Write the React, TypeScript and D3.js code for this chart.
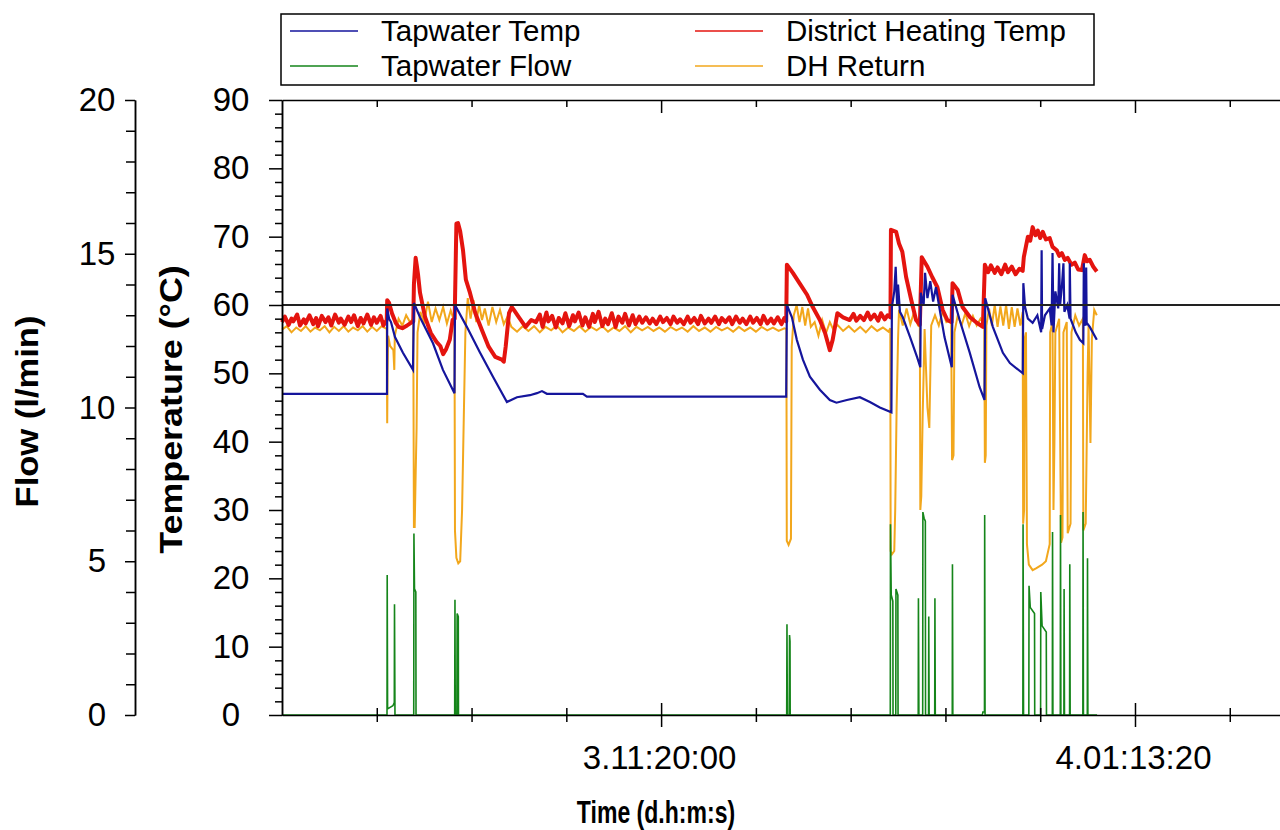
import React, { useEffect, useRef } from "react";
import * as d3 from "d3";

// time values are in thousands of seconds (ks) since t = 0
const tapwaterTemp: [number, number][] = [
  [260.0, 47.0], [271.08, 47.0], [271.1, 59.5], [271.3, 58.0], [271.5, 57.5], [271.92, 55.3],
  [272.76, 53.0], [273.82, 50.5], [273.92, 60.3], [274.56, 58.2], [275.93, 54.4], [276.98, 50.5],
  [278.2, 47.1], [278.25, 60.0], [279.5, 56.8], [280.9, 53.0], [282.26, 49.5], [283.73, 45.8],
  [284.79, 46.5], [286.16, 46.8], [286.9, 47.1], [287.43, 47.4], [287.95, 47.0], [291.75, 47.0],
  [292.17, 46.6], [313.2, 46.6], [313.27, 60.0], [313.8, 58.2], [314.32, 54.9], [314.96, 52.0],
  [315.7, 49.5], [316.75, 47.6], [317.8, 46.1], [318.5, 45.7], [319.6, 46.1], [320.97, 46.5],
  [322.03, 45.8], [323.08, 45.0], [324.3, 44.3], [324.35, 59.7], [324.6, 62.0], [324.75, 65.6],
  [324.9, 60.0], [325.0, 63.0], [325.2, 59.0], [325.5, 58.2], [326.27, 55.3], [327.0, 52.4],
  [327.35, 50.9], [327.4, 61.8], [327.7, 60.0], [327.85, 64.7], [328.1, 61.0], [328.4, 63.5],
  [328.7, 60.5], [329.0, 62.6], [329.4, 59.3], [329.9, 55.3], [330.67, 50.9], [330.75, 61.5],
  [331.5, 57.8], [332.57, 53.0], [333.6, 48.0], [334.12, 46.1], [334.2, 61.0], [335.0, 56.8],
  [336.06, 53.0], [336.8, 51.5], [338.16, 50.0], [338.22, 63.2], [338.4, 59.7], [338.7, 58.0],
  [339.2, 57.4], [339.7, 58.5], [340.1, 56.0], [340.15, 68.0], [340.2, 56.5], [340.5, 58.5],
  [341.0, 59.5], [341.2, 57.0], [341.3, 67.6], [341.4, 56.0], [341.6, 62.0], [341.9, 59.5],
  [342.0, 66.1], [342.1, 60.0], [342.3, 63.0], [342.45, 66.1], [342.55, 59.0], [342.85, 60.0],
  [343.1, 58.0], [343.12, 66.1], [343.2, 58.0], [343.75, 56.0], [344.18, 54.9], [344.55, 54.4],
  [344.6, 66.1], [344.65, 57.4], [344.8, 57.0], [344.85, 65.5], [344.9, 57.4], [345.23, 56.8],
  [345.97, 54.9],
];

const districtHeatingTemp: [number, number][] = [
  [260.0, 57.5], [260.3, 58.3], [260.7, 57.1], [261.0, 58.0], [261.2, 57.6], [261.6, 58.6],
  [261.9, 57.0], [262.3, 57.9], [262.5, 57.3], [262.9, 58.5], [263.3, 57.2], [263.6, 58.1],
  [263.8, 56.9], [264.2, 58.4], [264.6, 57.5], [264.9, 58.2], [265.2, 57.0], [265.6, 58.6],
  [266.0, 57.4], [266.2, 58.0], [266.6, 57.1], [267.0, 58.3], [267.3, 57.5], [267.6, 58.5],
  [268.0, 56.9], [268.3, 58.1], [268.6, 57.3], [269.0, 58.6], [269.4, 57.1], [269.7, 58.2],
  [270.0, 57.4], [270.4, 58.4], [270.7, 57.0], [271.05, 57.8],
  [271.1, 60.7], [271.3, 60.3], [271.6, 58.8], [272.0, 57.4], [272.3, 56.8], [272.7, 56.6],
  [273.2, 57.0], [273.6, 57.4], [273.85, 57.6], [273.92, 63.0], [274.1, 66.9], [274.2, 66.0],
  [274.35, 64.5], [274.56, 61.8], [275.1, 58.2], [275.7, 55.9], [276.3, 54.6], [276.7, 54.0],
  [277.0, 52.8], [277.3, 53.5], [277.7, 54.9], [278.0, 57.8], [278.22, 58.0], [278.4, 71.9],
  [278.57, 72.0], [278.8, 70.8], [279.1, 68.0], [279.4, 63.7], [279.83, 61.8], [280.4, 58.8],
  [281.1, 56.3], [281.8, 53.9], [282.5, 52.4], [283.2, 52.0], [283.4, 51.7], [283.6, 53.9],
  [283.95, 58.8], [284.25, 59.7], [284.5, 59.2], [285.0, 58.2], [285.7, 56.8], [286.3, 57.8],
  [286.8, 57.5], [287.2, 58.6], [287.5, 56.8], [287.9, 58.9], [288.1, 57.6], [288.5, 58.4],
  [288.9, 56.7], [289.2, 58.1], [289.6, 57.3], [289.9, 58.8], [290.3, 56.9], [290.7, 58.5],
  [290.9, 57.6], [291.3, 58.9], [291.7, 57.0], [292.0, 58.2], [292.4, 56.8], [292.8, 58.7],
  [293.0, 57.5], [293.4, 59.0], [293.8, 56.9], [294.1, 58.0], [294.4, 57.2], [294.8, 58.8],
  [295.2, 56.8], [295.5, 58.3], [295.9, 57.4], [296.2, 58.7], [296.6, 57.0], [297.0, 58.5],
  [297.3, 57.2], [297.7, 58.3], [298.0, 57.4], [298.4, 58.2], [298.8, 57.3], [299.1, 58.0],
  [299.5, 57.2], [299.9, 58.3], [300.2, 57.5], [300.6, 58.1], [301.0, 57.2], [301.3, 58.3],
  [301.7, 57.4], [302.0, 57.9], [302.4, 57.2], [302.8, 58.3], [303.1, 57.4], [303.5, 58.1],
  [303.9, 57.2], [304.2, 58.4], [304.6, 57.3], [305.0, 58.0], [305.3, 57.4], [305.7, 58.3],
  [306.1, 57.2], [306.4, 58.1], [306.8, 57.5], [307.2, 58.2], [307.5, 57.2], [307.9, 58.3],
  [308.3, 57.4], [308.6, 58.0], [309.0, 57.2], [309.4, 58.3], [309.7, 57.4], [310.1, 58.1],
  [310.5, 57.2], [310.8, 58.4], [311.2, 57.3], [311.6, 58.0], [311.9, 57.3], [312.3, 58.2],
  [312.7, 57.2], [313.0, 58.1], [313.2, 57.6], [313.27, 65.9], [313.9, 64.7], [314.6, 63.2],
  [315.4, 61.5], [316.0, 59.7], [316.75, 57.8], [317.3, 55.9], [317.8, 53.4], [318.1, 54.9],
  [318.6, 58.8], [319.2, 58.2], [319.9, 57.8], [320.3, 58.7], [320.6, 57.7], [321.0, 58.4],
  [321.4, 57.8], [321.8, 58.9], [322.1, 57.9], [322.5, 58.6], [322.9, 57.7], [323.2, 58.8],
  [323.6, 57.9], [323.9, 58.5], [324.2, 58.2],
  [324.25, 71.0], [324.8, 70.7], [325.1, 69.0], [325.45, 67.8], [325.85, 64.1], [326.4, 60.7],
  [326.9, 57.8], [327.3, 57.1], [327.5, 67.0], [328.1, 65.6], [328.6, 64.1], [329.15, 62.6],
  [329.7, 59.3], [330.2, 57.8], [330.65, 57.5], [330.75, 63.2], [331.3, 62.2], [331.8, 59.7],
  [332.6, 58.2], [333.3, 57.4], [333.95, 56.8], [334.16, 65.9], [334.5, 64.8], [334.8, 65.8],
  [335.2, 64.7], [335.5, 65.5], [335.9, 64.5], [336.3, 65.9], [336.6, 64.8], [337.0, 65.6],
  [337.4, 64.5], [337.8, 65.3], [338.15, 65.0], [338.27, 67.0], [338.5, 68.6], [338.7, 70.0],
  [338.95, 69.4], [339.2, 71.4], [339.5, 70.2], [339.75, 70.9], [340.0, 69.8], [340.27, 70.7],
  [340.6, 69.6], [341.0, 69.8], [341.3, 68.5], [341.75, 68.0], [342.0, 67.2], [342.28, 67.6],
  [342.6, 66.6], [342.9, 66.9], [343.3, 65.9], [343.65, 66.2], [344.0, 65.2], [344.4, 65.1],
  [344.7, 67.3], [344.95, 66.4], [345.23, 66.6], [345.6, 65.6], [345.97, 64.9],
];

const dhReturn: [number, number][] = [
  [260.0, 56.4], [260.5, 56.9], [261.0, 56.0], [261.5, 56.7], [262.0, 56.2], [262.5, 56.9],
  [263.0, 56.1], [263.5, 56.7], [264.0, 56.3], [264.5, 56.9], [265.0, 56.0], [265.5, 56.8],
  [266.0, 56.2], [266.5, 56.9], [267.0, 56.1], [267.5, 56.7], [268.0, 56.3], [268.5, 56.9],
  [269.0, 56.1], [269.5, 56.8], [270.0, 56.2], [270.5, 56.9], [271.05, 56.5],
  [271.1, 42.7], [271.14, 50.0], [271.2, 55.5], [271.4, 54.0], [271.75, 53.4], [271.85, 50.5],
  [271.9, 55.5], [272.3, 58.0], [272.7, 57.0], [273.1, 58.5], [273.5, 57.5], [273.85, 58.0],
  [273.92, 27.5], [274.0, 27.5], [274.1, 35.0], [274.2, 42.0], [274.3, 56.0], [274.6, 59.0],
  [275.0, 57.5], [275.4, 60.5], [275.8, 57.5], [276.2, 59.5], [276.6, 57.8], [277.0, 59.7],
  [277.4, 57.3], [277.8, 59.2], [278.2, 57.5], [278.25, 27.0], [278.4, 23.0], [278.6, 22.2],
  [278.8, 22.5], [279.0, 30.0], [279.2, 45.0], [279.35, 56.0], [279.6, 61.0], [279.9, 58.0],
  [280.2, 60.7], [280.5, 57.5], [280.8, 60.0], [281.1, 57.8], [281.4, 59.5], [281.8, 57.0],
  [282.2, 59.7], [282.6, 57.5], [283.0, 59.3], [283.4, 57.2], [283.8, 58.3], [284.2, 56.8],
  [284.8, 56.1], [285.4, 56.9], [286.0, 56.2], [286.6, 56.9], [287.2, 56.0], [287.8, 56.8],
  [288.4, 56.3], [289.0, 57.0], [289.6, 56.0], [290.2, 56.7], [290.8, 56.2], [291.4, 56.9],
  [292.0, 56.1], [292.6, 56.8], [293.2, 56.3], [293.8, 56.9], [294.4, 56.1], [295.0, 56.7],
  [295.6, 56.2], [296.2, 56.9], [296.8, 56.0], [297.4, 56.8], [298.0, 56.3], [298.6, 56.8],
  [299.2, 56.2], [299.8, 56.7], [300.4, 56.1], [301.0, 56.8], [301.6, 56.3], [302.2, 56.7],
  [302.8, 56.1], [303.4, 56.9], [304.0, 56.2], [304.6, 56.7], [305.2, 56.1], [305.8, 56.8],
  [306.4, 56.3], [307.0, 56.7], [307.6, 56.1], [308.2, 56.8], [308.8, 56.2], [309.4, 56.7],
  [310.0, 56.1], [310.6, 56.8], [311.2, 56.3], [311.8, 56.7], [312.4, 56.2], [313.0, 56.6],
  [313.22, 56.5], [313.26, 25.5], [313.45, 24.9], [313.7, 25.8], [313.78, 53.9], [314.0, 58.5],
  [314.3, 60.0], [314.6, 57.5], [314.9, 59.7], [315.2, 57.0], [315.5, 59.5], [315.8, 56.8],
  [316.2, 57.5], [316.6, 55.5], [317.0, 57.8], [317.4, 55.9], [317.8, 57.5], [318.2, 56.3],
  [318.6, 57.1], [319.2, 56.2], [319.8, 56.9], [320.4, 56.1], [321.0, 56.8], [321.6, 56.0],
  [322.2, 56.9], [322.8, 56.2], [323.4, 56.7], [324.0, 56.1], [324.18, 56.6],
  [324.22, 24.0], [324.35, 23.5], [324.6, 24.0], [324.7, 30.0], [324.85, 45.0], [325.0, 55.0],
  [325.1, 59.3], [325.5, 57.0], [325.9, 59.5], [326.3, 57.2], [326.7, 59.0], [327.1, 57.0],
  [327.3, 56.8], [327.35, 30.0], [327.45, 32.0], [327.6, 44.0], [327.7, 50.0], [327.8, 56.5],
  [328.1, 45.0], [328.3, 42.0], [328.5, 57.0], [328.9, 58.5], [329.3, 57.0], [329.7, 59.0],
  [330.1, 57.5], [330.6, 57.8], [330.7, 37.3], [330.85, 38.0], [330.95, 56.0], [331.3, 58.5],
  [331.7, 57.0], [332.1, 58.8], [332.5, 56.9], [332.9, 58.4], [333.3, 57.0], [333.7, 58.0],
  [334.1, 57.2], [334.16, 36.9], [334.25, 38.0], [334.32, 57.0], [334.6, 59.5], [334.9, 57.0],
  [335.2, 60.0], [335.5, 56.8], [335.8, 59.8], [336.1, 57.0], [336.4, 60.0], [336.7, 56.5],
  [337.0, 59.7], [337.3, 56.8], [337.6, 59.5], [337.9, 57.0], [338.15, 59.0],
  [338.2, 28.0], [338.3, 30.0], [338.35, 55.0], [338.5, 56.0], [338.6, 25.0], [338.8, 22.0],
  [339.2, 21.2], [339.6, 21.5], [340.2, 22.0], [340.6, 22.5], [341.0, 25.0], [341.05, 56.0],
  [341.3, 57.5], [341.4, 30.0], [341.5, 40.0], [341.6, 56.0], [342.0, 58.0], [342.2, 25.2],
  [342.35, 26.0], [342.45, 56.0], [342.8, 57.5], [342.9, 26.6], [343.2, 28.0], [343.3, 56.0],
  [343.7, 58.5], [344.1, 57.0], [344.5, 58.0], [344.55, 27.0], [344.8, 28.0], [345.0, 50.0],
  [345.1, 57.0], [345.3, 39.8], [345.45, 55.0], [345.7, 59.3], [345.97, 58.5],
];

const tapwaterFlow: [number, number][] = [
  [260.0, 0], [271.08, 0], [271.1, 4.55], [271.14, 0.2], [271.7, 0.3], [271.85, 0.4],
  [271.87, 3.6], [271.92, 0], [273.9, 0], [273.92, 5.9], [273.98, 4.1], [274.12, 4.0],
  [274.14, 0], [278.22, 0], [278.25, 3.75], [278.28, 0], [278.45, 0], [278.48, 3.3],
  [278.6, 3.2], [278.62, 0], [313.25, 0], [313.28, 2.95], [313.32, 0], [313.52, 0],
  [313.55, 2.6], [313.6, 2.4], [313.62, 0], [324.18, 0], [324.2, 6.2], [324.28, 3.9],
  [324.45, 3.7], [324.47, 0], [324.76, 0], [324.78, 4.1], [324.98, 3.9], [325.0, 0],
  [327.13, 0], [327.15, 3.8], [327.2, 0], [327.6, 0], [327.62, 6.6], [327.75, 6.4],
  [327.88, 6.3], [327.9, 0], [328.22, 0], [328.24, 3.2], [328.28, 0], [328.87, 0],
  [328.89, 3.8], [328.93, 0], [330.72, 0], [330.74, 4.9], [330.78, 0], [333.9, 0],
  [333.95, 0.1], [334.12, 0.1], [334.14, 6.5], [334.18, 0], [338.17, 0], [338.19, 6.2],
  [338.24, 0], [338.8, 0], [338.82, 4.2], [338.95, 3.5], [339.4, 3.3], [339.42, 0],
  [340.04, 0], [340.06, 4.0], [340.2, 2.9], [340.64, 2.7], [340.66, 0], [341.28, 0],
  [341.3, 5.95], [341.34, 0], [342.12, 0], [342.14, 6.5], [342.18, 0], [342.5, 0],
  [342.52, 4.1], [342.56, 0], [343.1, 0], [343.12, 4.9], [343.16, 0], [344.5, 0],
  [344.52, 6.6], [344.56, 0], [344.97, 0], [344.99, 5.1], [345.03, 0], [346.0, 0],
];

const tempTicks = [0, 10, 20, 30, 40, 50, 60, 70, 80, 90];
const flowTicks = [0, 5, 10, 15, 20];
const timeMajorTicks = [300, 350];
const setpointTemp = 60;

const BLUE = "#15159c";
const RED = "#e4140f";
const ORANGE = "#f2a71c";
const GREEN = "#15851a";
const FONT = "'Liberation Sans', Arial, sans-serif";

const legendItems = [
  { label: "Tapwater Temp", color: BLUE, col: 0, row: 0 },
  { label: "District Heating Temp", color: RED, col: 1, row: 0 },
  { label: "Tapwater Flow", color: GREEN, col: 0, row: 1 },
  { label: "DH Return", color: ORANGE, col: 1, row: 1 },
];

// ks -> d.hh:mm:ss
const fmtTime = (ks: number) => {
  const s = Math.round(ks * 1000);
  const d = Math.floor(s / 86400);
  const h = Math.floor((s % 86400) / 3600);
  const m = Math.floor((s % 3600) / 60);
  const sec = s % 60;
  const p = (n: number) => String(n).padStart(2, "0");
  return `${d}.${p(h)}:${p(m)}:${p(sec)}`;
};

export default function App() {
  const svgRef = useRef<SVGSVGElement>(null);

  useEffect(() => {
    if (!svgRef.current) return;
    const svg = d3.select(svgRef.current);
    svg.selectAll("*").remove();

    const left = 282, right = 1280, top = 100, bottom = 715;
    const x = d3.scaleLinear().domain([260, 365.3]).range([left, right]);
    const yT = d3.scaleLinear().domain([0, 90]).range([bottom, top]);
    const yF = d3.scaleLinear().domain([0, 20]).range([bottom, top]);

    const tempLine = d3.line<[number, number]>().x(d => x(d[0])).y(d => yT(d[1]));
    const flowLine = d3.line<[number, number]>().x(d => x(d[0])).y(d => yF(d[1]));

    // series
    svg.append("path").datum(dhReturn).attr("d", tempLine)
      .attr("fill", "none").attr("stroke", ORANGE).attr("stroke-width", 2);
    svg.append("path").datum(districtHeatingTemp).attr("d", tempLine)
      .attr("fill", "none").attr("stroke", RED).attr("stroke-width", 4)
      .attr("stroke-linejoin", "round");
    svg.append("path").datum(tapwaterFlow).attr("d", flowLine)
      .attr("fill", "none").attr("stroke", GREEN).attr("stroke-width", 1.6);
    svg.append("path").datum(tapwaterTemp).attr("d", tempLine)
      .attr("fill", "none").attr("stroke", BLUE).attr("stroke-width", 2.2);

    // 60 °C reference line
    svg.append("line")
      .attr("x1", left).attr("x2", right)
      .attr("y1", yT(setpointTemp)).attr("y2", yT(setpointTemp))
      .attr("stroke", "#222").attr("stroke-width", 2);

    const styleAxis = (g: d3.Selection<SVGGElement, unknown, null, undefined>) => {
      g.selectAll("path, line").attr("stroke", "#000").attr("stroke-width", 1.5);
      g.selectAll("text").attr("fill", "#000").style("font-family", FONT).style("font-size", "33px");
    };

    // temperature axis
    const minorT = d3.range(0, 91, 2).filter(v => v % 10 !== 0);
    svg.append("g").attr("transform", `translate(${left},0)`)
      .call(d3.axisLeft(yT).tickValues(minorT).tickSize(7).tickSizeOuter(0).tickFormat(() => ""))
      .call(styleAxis);
    svg.append("g").attr("transform", `translate(${left},0)`)
      .call(d3.axisLeft(yT).tickValues(tempTicks).tickSize(13).tickSizeOuter(0))
      .call(styleAxis)
      .call(g => g.selectAll("text").attr("x", -51).attr("text-anchor", "middle"));

    // flow axis
    const flowAxisX = 135;
    svg.append("g").attr("transform", `translate(${flowAxisX},0)`)
      .call(d3.axisLeft(yF).tickValues(d3.range(0, 21, 1).filter(v => v % 5 !== 0)).tickSize(9).tickSizeOuter(0).tickFormat(() => ""))
      .call(styleAxis);
    svg.append("g").attr("transform", `translate(${flowAxisX},0)`)
      .call(d3.axisLeft(yF).tickValues(flowTicks).tickSize(10).tickSizeOuter(0))
      .call(styleAxis)
      .call(g => g.selectAll("text").attr("x", -38).attr("text-anchor", "middle"));

    // time axes (bottom ticks cross the line, top ticks point inward)
    const minorX = d3.range(270, 366, 10).filter(v => v % 50 !== 0);
    const bx = svg.append("g").attr("transform", `translate(0,${bottom})`);
    bx.call(d3.axisBottom(x).tickValues(minorX).tickSize(7).tickSizeOuter(0).tickFormat(() => ""))
      .call(styleAxis);
    bx.selectAll(".tick line").attr("y1", -7);
    const bxM = svg.append("g").attr("transform", `translate(0,${bottom})`);
    bxM.call(d3.axisBottom(x).tickValues(timeMajorTicks).tickSize(12).tickSizeOuter(0).tickFormat(d => fmtTime(+d)))
      .call(styleAxis);
    bxM.select(".domain").remove();
    bxM.selectAll(".tick line").attr("y1", -12);
    bxM.selectAll("text").attr("y", 0).attr("dy", 0).attr("transform", "translate(-2,54)");

    const tx = svg.append("g").attr("transform", `translate(0,${top})`);
    tx.call(d3.axisBottom(x).tickValues(minorX).tickSize(7).tickSizeOuter(0).tickFormat(() => ""))
      .call(styleAxis);
    const txM = svg.append("g").attr("transform", `translate(0,${top})`);
    txM.call(d3.axisBottom(x).tickValues(timeMajorTicks).tickSize(13).tickSizeOuter(0).tickFormat(() => ""))
      .call(styleAxis);
    txM.select(".domain").remove();

    // axis titles
    svg.append("text").text("Time (d.h:m:s)")
      .attr("transform", "translate(656,823) scale(0.72,1)")
      .attr("text-anchor", "middle")
      .style("font-family", FONT).style("font-size", "32px").style("font-weight", "bold");
    svg.append("text").text("Temperature (°C)")
      .attr("transform", `translate(182,${(top + bottom) / 2 + 2}) rotate(-90) scale(1.12,1)`)
      .attr("text-anchor", "middle")
      .style("font-family", FONT).style("font-size", "32px").style("font-weight", "bold");
    svg.append("text").text("Flow (l/min)")
      .attr("transform", `translate(38,${(top + bottom) / 2 + 4}) rotate(-90) scale(1.08,1)`)
      .attr("text-anchor", "middle")
      .style("font-family", FONT).style("font-size", "32px").style("font-weight", "bold");

    // legend
    const lg = svg.append("g");
    lg.append("rect").attr("x", 281).attr("y", 14).attr("width", 813).attr("height", 71)
      .attr("fill", "#fff").attr("stroke", "#000").attr("stroke-width", 1.5);
    const colX = [290, 695];
    const rowY = [31, 66];
    legendItems.forEach(it => {
      const lx = colX[it.col], ly = rowY[it.row];
      lg.append("line").attr("x1", lx).attr("x2", lx + 68).attr("y1", ly).attr("y2", ly)
        .attr("stroke", it.color).attr("stroke-width", 1.6);
      lg.append("text").text(it.label).attr("x", lx + 91).attr("y", ly).attr("dy", "0.35em")
        .style("font-family", FONT).style("font-size", "29.5px");
    });
  }, []);

  return (
    <svg
      ref={svgRef}
      width={1280}
      height={830}
      style={{ position: "absolute", left: 0, top: 0, background: "#fff" }}
    />
  );
}
